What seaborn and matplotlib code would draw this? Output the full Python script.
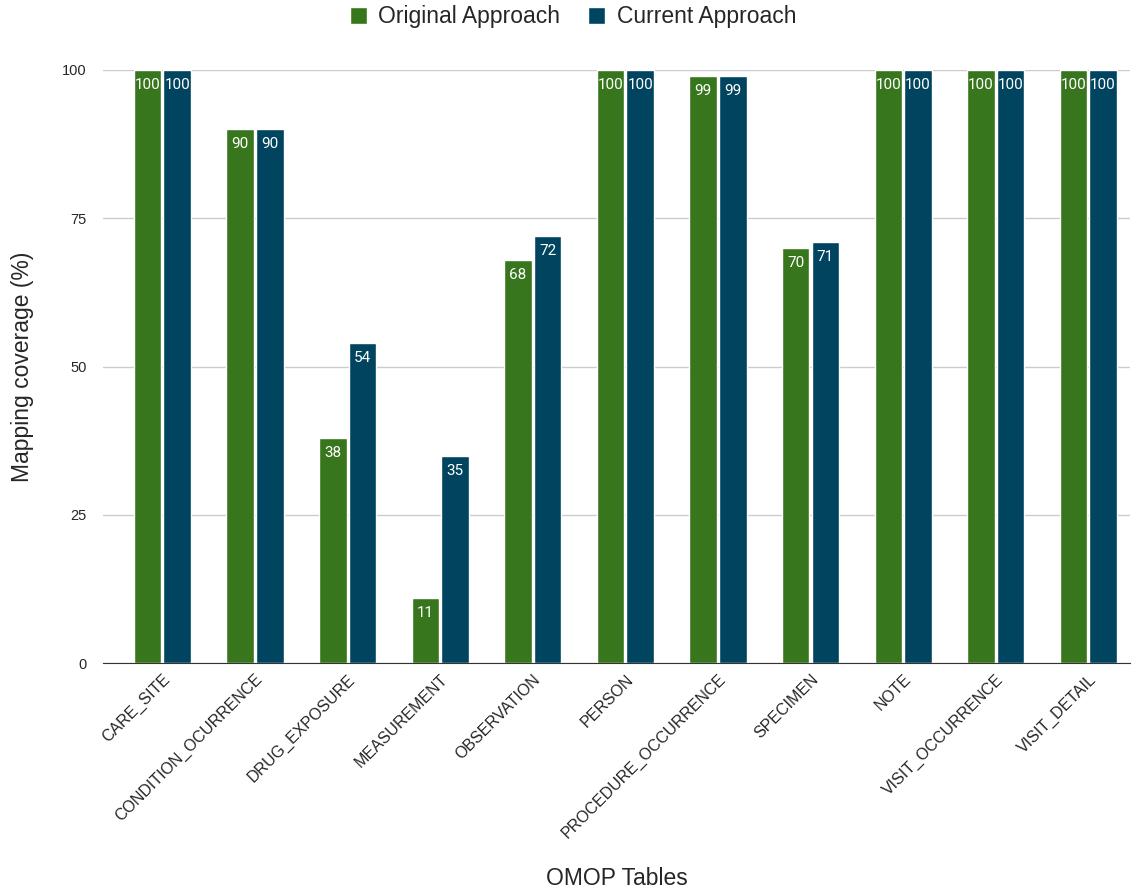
import seaborn as sns
import pandas as pd
import matplotlib.pyplot as plt

tables = ["CARE_SITE", "CONDITION_OCURRENCE", "DRUG_EXPOSURE", "MEASUREMENT",
          "OBSERVATION", "PERSON", "PROCEDURE_OCCURRENCE", "SPECIMEN", "NOTE",
          "VISIT_OCCURRENCE", "VISIT_DETAIL"]
original = [100, 90, 38, 11, 68, 100, 99, 70, 100, 100, 100]
current = [100, 90, 54, 35, 72, 100, 99, 71, 100, 100, 100]
approaches = ["Original Approach", "Current Approach"]
colors = ["#38761d", "#01445f"]

df = pd.DataFrame({
    "table": tables * 2,
    "value": original + current,
    "approach": [approaches[0]] * len(tables) + [approaches[1]] * len(tables),
})

sns.set_style("white")
plt.rcParams['font.family'] = ['Liberation Sans', 'DejaVu Sans']

fig = plt.figure(figsize=(11.46, 8.94), dpi=100)
ax = fig.add_axes([0.09, 0.258, 0.896, 0.664])

sns.barplot(data=df, x="table", y="value", hue="approach", palette=colors,
            saturation=1, width=0.64, gap=0.07, ax=ax, zorder=2)

for cont in ax.containers:
    ax.bar_label(cont, labels=[str(int(v)) for v in cont.datavalues],
                 label_type="edge", padding=-16, color="white", fontsize=11,
                 family=["Roboto", "DejaVu Sans"])

ax.set_ylim(0, 100)
ax.set_yticks([0, 25, 50, 75, 100])
ax.grid(axis="y", color="#cccccc", linewidth=1, zorder=0)
ax.set_axisbelow(True)
for s in ["top", "right", "left"]:
    ax.spines[s].set_visible(False)
ax.spines["bottom"].set_color("#333333")
ax.tick_params(axis="y", labelsize=10.5, length=0, pad=12)
ax.tick_params(axis="x", labelsize=11.5, length=0, pad=6)
plt.setp(ax.get_xticklabels(), rotation=45, ha="right", rotation_mode="anchor")
ax.set_xlim(-0.64, len(tables) - 0.55)

ax.set_xlabel("OMOP Tables", fontsize=16.5, va="center")
ax.xaxis.set_label_coords(0.5, -0.362)
ax.set_ylabel("Mapping coverage (%)", fontsize=16.5, va="center")
ax.yaxis.set_label_coords(-0.079, 0.5)

h, l = ax.get_legend_handles_labels()
ax.legend_.remove()
fig.legend(h, l, loc="upper center", bbox_to_anchor=(0.5, 1.017), ncol=2,
           frameon=False, fontsize=16.5, handlelength=0.75, handleheight=0.75,
           columnspacing=1.2, handletextpad=0.5)

fig.savefig("out.png", dpi=100)
